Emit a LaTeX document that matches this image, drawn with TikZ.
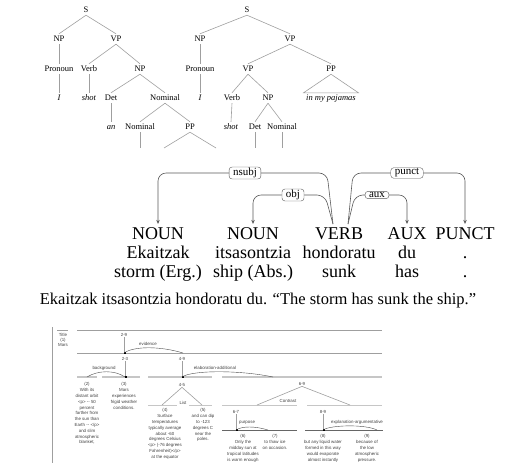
\documentclass[tikz,border=0pt]{standalone}
\usepackage{fontspec}
\setmainfont{Liberation Serif}
\newfontfamily\rstfont{Liberation Sans}
\usetikzlibrary{arrows.meta}

\begin{document}
\begin{tikzpicture}[x=1pt,y=-1pt,
	cat/.style={inner sep=1.5pt, font=\fontsize{8.5}{10}\selectfont, text height=6pt, text depth=1pt},
	wd/.style={cat, font=\fontsize{8.5}{10}\selectfont\itshape},
	tedge/.style={draw=gray!75, line width=0.6pt},
	cell/.style={anchor=base, inner sep=3pt, font=\fontsize{18}{20}\selectfont},
	deparc/.style={draw=black!65, line width=0.6pt, rounded corners=8pt, -{Stealth[length=4pt,width=3.5pt]}},
	deplab/.style={draw=black!65, fill=white, rounded corners=3pt, inner xsep=4pt, inner ysep=1pt, font=\fontsize{11}{12}\selectfont},
	rst/.style={font=\rstfont\fontsize{4.4}{5.8}\selectfont, text=black!75, inner sep=0.6pt, align=center},
	rline/.style={draw=gray!75, line width=0.6pt},
	rbar/.style={draw=gray!45, line width=1.4pt},
	rarc/.style={draw=black!70, line width=0.4pt},
	nucdot/.style={fill=black, inner sep=0pt, minimum size=2pt}]
	\useasboundingbox (0,0) rectangle (513,469);

	% parse tree: shot an elephant
	\node[cat] (S1) at (86,10) {S};
	\node[cat] (NP1) at (59,39) {NP};
	\node[cat] (VP1) at (116,39) {VP};
	\node[cat] (Pro1) at (59,69) {Pronoun};
	\node[cat] (V1) at (89,69) {Verb};
	\node[cat] (NP2) at (140,69) {NP};
	\node[wd] (I1) at (59,98) {I};
	\node[wd] (shot1) at (89,98) {shot};
	\node[cat] (Det1) at (111,98) {Det};
	\node[cat] (Nom1) at (165,98) {Nominal};
	\node[wd] (an1) at (111,127) {an};
	\node[cat] (Nom2) at (140,127) {Nominal};
	\node[cat] (PP1) at (190,127) {PP};
	\coordinate (c1) at (140,148);
	\coordinate (c2) at (164,148);
	\coordinate (c3) at (216,148);
	\foreach \a/\b in {S1/NP1,S1/VP1,NP1/Pro1,VP1/V1,VP1/NP2,Pro1/I1,V1/shot1,NP2/Det1,NP2/Nom1,Det1/an1,Nom1/Nom2,Nom1/PP1}
		\draw[tedge] (\a.south) -- (\b.north);
	\draw[tedge] (Nom2.south) -- (c1);
	\draw[tedge] (c2) -- (PP1.south) -- (c3);

	% parse tree: in my pajamas
	\node[cat] (S2) at (247,10) {S};
	\node[cat] (NP3) at (200,39) {NP};
	\node[cat] (VP2) at (290,39) {VP};
	\node[cat] (Pro2) at (200,69) {Pronoun};
	\node[cat] (VP3) at (248,69) {VP};
	\node[cat] (PP2) at (331,69) {PP};
	\node[wd] (I2) at (200,98) {I};
	\node[cat] (V2) at (232,98) {Verb};
	\node[cat] (NP4) at (268,98) {NP};
	\node[wd] (pj) at (331,98) {in my pajamas};
	\node[wd] (shot2) at (231,127) {shot};
	\node[cat] (Det2) at (255,127) {Det};
	\node[cat] (Nom3) at (282,127) {Nominal};
	\coordinate (c4) at (255,148);
	\coordinate (c5) at (282,148);
	\foreach \a/\b in {S2/NP3,S2/VP2,NP3/Pro2,VP2/VP3,VP2/PP2,Pro2/I2,VP3/V2,VP3/NP4,V2/shot2,NP4/Det2,NP4/Nom3}
		\draw[tedge] (\a.south) -- (\b.north);
	\draw[tedge] (Det2.south) -- (c4);
	\draw[tedge] (Nom3.south) -- (c5);
	\draw[tedge] (PP2.south) -- ([xshift=-1pt]pj.north west) -- ([xshift=1pt]pj.north east) -- cycle;

	% dependency tree
	\foreach \i/\x/\p/\t/\g in {1/158/NOUN/Ekaitzak/storm (Erg.),2/253/NOUN/itsasontzia/ship (Abs.),3/339/VERB/hondoratu/sunk,4/407/AUX/du/has,5/465/PUNCT/./.} {
		\node[cell] (pos\i) at (\x,239) {\p};
		\node[cell] (tok\i) at (\x,258) {\t};
		\node[cell] (gl\i) at (\x,277) {\g};
	}
	\node[cell, font=\fontsize{16.5}{18}\selectfont] (sent) at (258,304) {Ekaitzak itsasontzia hondoratu du. ``The storm has sunk the ship.''};
	\coordinate (ynsubj) at (245,173);
	\coordinate (yobj) at (293,195);
	\coordinate (ypunct) at (407,173);
	\coordinate (yaux) at (377,195);
	\draw[deparc] ([xshift=-6pt]pos3.north) -- ([xshift=-12pt]pos3.north |- ynsubj) -- (pos1.north |- ynsubj) -- (pos1.north);
	\draw[deparc] ([xshift=-6pt]pos3.north) -- ([xshift=-14pt]pos3.north |- yobj) -- (pos2.north |- yobj) -- (pos2.north);
	\draw[deparc] ([xshift=9pt]pos3.north) -- ([xshift=14pt]pos3.north |- ypunct) -- (pos5.north |- ypunct) -- (pos5.north);
	\draw[deparc] ([xshift=9pt]pos3.north) -- ([xshift=16pt]pos3.north |- yaux) -- (pos4.north |- yaux) -- (pos4.north);
	\node[deplab] (lnsubj) at (ynsubj) {nsubj};
	\node[deplab] (lobj) at (yobj) {obj};
	\node[deplab] (lpunct) at (ypunct) {punct};
	\node[deplab] (laux) at (yaux) {aux};

	% discourse tree
	\draw[rline] (52,327) -- (52,463);
	\draw[rline] (57,330) -- (68,330);
	\node[rst, font=\rstfont\fontsize{4.4}{5}\selectfont] (title) at (63,340) {Title\\(1)\\Mars};
	\draw[rline] (77,330) -- (382,330);
	\draw[rline] (77,353) -- (382,353);
	\foreach \a/\b in {77/97,102/140,148/212,222/382}
		\draw[rbar] (\a,377) -- (\b,377);
	\foreach \a/\b in {148/177,189/212,222/297,307/382}
		\draw[rbar, line width=1pt] (\a,405) -- (\b,405);
	\foreach \a/\b in {222/297,305/383}
		\draw[rline, draw=black!60] (\a,430) -- (\b,430);

	\node[rst] (s29) at (124,335) {2-9};
	\node[rst] (s23) at (125,359) {2-3};
	\node[rst] (s49) at (182,359) {4-9};
	\node[rst] (s45) at (182,385) {4-5};
	\node[rst] (s69) at (302,384) {6-9};
	\node[rst] (s67) at (236,412) {6-7};
	\node[rst] (s89) at (323,412) {8-9};
	\coordinate (m29) at (124,353);
	\coordinate (m23) at (125,377);
	\coordinate (m49) at (182,377);
	\coordinate (m67) at (236,430);
	\coordinate (m89) at (323,430);
	\foreach \s/\m in {s29/m29,s23/m23,s49/m49,s67/m67,s89/m89} {
		\draw[rline] (\s.south) -- (\m);
		\node[nucdot] at ([xshift=1pt]\m) {};
	}
	\coordinate (l4) at (162,405);
	\coordinate (l5) at (202,405);
	\coordinate (l67) at (257,405);
	\coordinate (l89) at (350,405);
	\draw[rline] (l4) -- (s45.south) -- (l5);
	\draw[rline] (l67) -- (s69.south) -- (l89);

	% relations
	\node[rst] (evid) at (148,344) {evidence};
	\node[rst] (backg) at (104,368) {background};
	\node[rst] (elab) at (215,368) {elaboration-additional};
	\node[rst] (list) at (183,403) {List};
	\node[rst] (contr) at (288,401) {Contrast};
	\node[rst] (purp) at (247,423) {purpose};
	\node[rst] (expl) at (357,422) {explanation-argumentative};
	\coordinate (e29) at (183,353);
	\coordinate (e23) at (87,377);
	\coordinate (e49) at (273,377);
	\coordinate (e67) at (268,430);
	\coordinate (e89) at (377,430);
	\draw[rarc] (m29) .. controls (134,346) and (160,346) .. (e29);
	\draw[rarc] (m23) .. controls (115,370) and (98,370) .. (e23);
	\draw[rarc] (m49) .. controls (192,370) and (240,370) .. (e49);
	\draw[rarc] (m67) .. controls (242,426) and (255,426) .. (e67);
	\draw[rarc] (m89) .. controls (330,425) and (365,424) .. (e89);

	% text spans
	\node[rst, anchor=north] (u2) at (87,382) {(2)\\With its\\distant orbit\\<p> {-}{-} 50\\percent\\farther from\\the sun than\\Earth {-}{-} </p>\\and slim\\atmospheric\\blanket,};
	\node[rst, anchor=north] (u3) at (124,382) {(3)\\Mars\\experiences\\frigid weather\\conditions.};
	\node[rst, anchor=north] (u4) at (165,408) {(4)\\Surface\\temperatures\\typically average\\about -60\\degrees Celsius\\<p> (-76 degrees\\Fahrenheit)</p>\\at the equator};
	\node[rst, anchor=north] (u5) at (203,408) {(5)\\and can dip\\to -123\\degrees C\\near the\\poles.};
	\node[rst, anchor=north] (u6) at (243,434) {(6)\\Only the\\midday sun at\\tropical latitudes\\is warm enough};
	\node[rst, anchor=north] (u7) at (275,434) {(7)\\to thaw ice\\on occasion.};
	\node[rst, anchor=north] (u8) at (323,434) {(8)\\but any liquid water\\formed in this way\\would evaporate\\almost instantly};
	\node[rst, anchor=north] (u9) at (367,434) {(9)\\because of\\the low\\atmospheric\\pressure.};
\end{tikzpicture}
\end{document}
